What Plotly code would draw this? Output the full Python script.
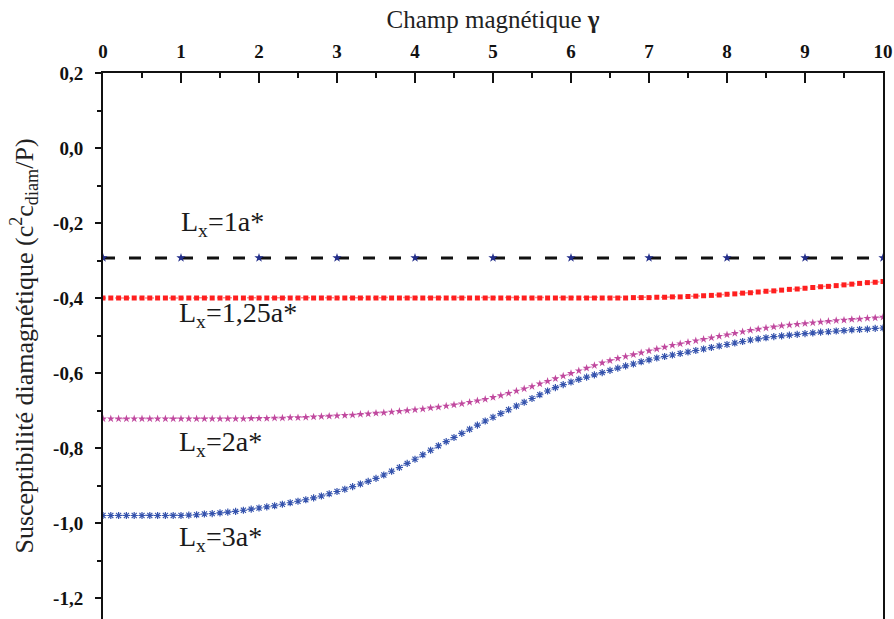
import plotly.graph_objects as go

# ---------------- data ----------------
gamma = [round(i * 0.1, 1) for i in range(101)]
gamma_int = [0, 1, 2, 3, 4, 5, 6, 7, 8, 9, 10]

chi_L1 = [-0.293, -0.293, -0.293, -0.293, -0.293, -0.293, -0.293, -0.293, -0.293, -0.293, -0.293]

chi_L125 = [
    -0.400, -0.400, -0.400, -0.400, -0.400, -0.400, -0.400, -0.400, -0.400, -0.400,
    -0.400, -0.400, -0.400, -0.400, -0.400, -0.400, -0.400, -0.400, -0.400, -0.400,
    -0.400, -0.400, -0.400, -0.400, -0.400, -0.400, -0.400, -0.400, -0.400, -0.400,
    -0.400, -0.400, -0.400, -0.400, -0.400, -0.400, -0.400, -0.400, -0.400, -0.400,
    -0.400, -0.400, -0.400, -0.400, -0.400, -0.400, -0.400, -0.400, -0.400, -0.400,
    -0.400, -0.400, -0.400, -0.400, -0.400, -0.400, -0.400, -0.400, -0.400, -0.400,
    -0.400, -0.400, -0.400, -0.400, -0.400, -0.400, -0.400, -0.400, -0.399, -0.399,
    -0.399, -0.398, -0.398, -0.397, -0.397, -0.396, -0.395, -0.394, -0.393, -0.392,
    -0.390, -0.389, -0.387, -0.386, -0.384, -0.382, -0.381, -0.379, -0.377, -0.376,
    -0.374, -0.372, -0.370, -0.369, -0.367, -0.365, -0.363, -0.361, -0.359, -0.358,
    -0.356,
]

chi_L2 = [
    -0.722, -0.722, -0.722, -0.722, -0.722, -0.722, -0.722, -0.722, -0.722, -0.722,
    -0.722, -0.722, -0.722, -0.722, -0.722, -0.722, -0.722, -0.722, -0.722, -0.721,
    -0.721, -0.721, -0.720, -0.720, -0.719, -0.719, -0.718, -0.717, -0.716, -0.715,
    -0.714, -0.713, -0.712, -0.710, -0.709, -0.707, -0.706, -0.704, -0.702, -0.700,
    -0.698, -0.696, -0.693, -0.691, -0.688, -0.685, -0.682, -0.678, -0.674, -0.670,
    -0.665, -0.660, -0.654, -0.648, -0.642, -0.636, -0.629, -0.622, -0.615, -0.608,
    -0.601, -0.594, -0.587, -0.580, -0.573, -0.567, -0.561, -0.556, -0.551, -0.546,
    -0.541, -0.536, -0.531, -0.526, -0.522, -0.518, -0.514, -0.510, -0.506, -0.502,
    -0.498, -0.494, -0.490, -0.486, -0.483, -0.480, -0.477, -0.474, -0.472, -0.470,
    -0.468, -0.466, -0.464, -0.462, -0.460, -0.459, -0.457, -0.456, -0.454, -0.453,
    -0.451,
]

chi_L3 = [
    -0.980, -0.980, -0.980, -0.980, -0.980, -0.980, -0.980, -0.980, -0.980, -0.980,
    -0.980, -0.979, -0.978, -0.976, -0.975, -0.973, -0.971, -0.969, -0.966, -0.963,
    -0.960, -0.957, -0.954, -0.950, -0.946, -0.942, -0.938, -0.933, -0.928, -0.922,
    -0.916, -0.910, -0.903, -0.896, -0.889, -0.881, -0.872, -0.862, -0.852, -0.841,
    -0.830, -0.818, -0.806, -0.794, -0.783, -0.772, -0.761, -0.750, -0.739, -0.728,
    -0.718, -0.708, -0.698, -0.688, -0.678, -0.668, -0.658, -0.648, -0.639, -0.631,
    -0.624, -0.617, -0.611, -0.605, -0.599, -0.593, -0.587, -0.581, -0.576, -0.570,
    -0.565, -0.560, -0.556, -0.552, -0.548, -0.544, -0.540, -0.536, -0.532, -0.528,
    -0.524, -0.520, -0.516, -0.512, -0.509, -0.506, -0.503, -0.501, -0.499, -0.497,
    -0.495, -0.493, -0.491, -0.490, -0.488, -0.487, -0.485, -0.484, -0.483, -0.481,
    -0.480,
]

x_ticks = [0, 1, 2, 3, 4, 5, 6, 7, 8, 9, 10]
y_ticks = [-1.2, -1.0, -0.8, -0.6, -0.4, -0.2, 0.0, 0.2]
y_tick_labels = ["-1,2", "-1,0", "-0,8", "-0,6", "-0,4", "-0,2", "0,0", "0,2"]

labels = ["L<sub>x</sub>=1a*", "L<sub>x</sub>=1,25a*", "L<sub>x</sub>=2a*", "L<sub>x</sub>=3a*"]
label_x = [0.98, 0.95, 0.95, 0.95]
label_y = [-0.200, -0.445, -0.787, -1.040]

# ---------------- figure ----------------
SERIF = "Liberation Serif, Times New Roman, serif"

fig = go.Figure()

fig.add_trace(go.Scatter(
    x=gamma, y=chi_L125, mode="lines+markers",
    line=dict(color="rgba(255,60,60,0.6)", width=1.5, dash="dot"),
    marker=dict(symbol="square", size=5, color="#ff1f1f"),
    showlegend=False))

fig.add_trace(go.Scatter(
    x=gamma, y=chi_L2, mode="lines+markers",
    line=dict(color="rgba(200,80,170,0.6)", width=1.2, dash="dot"),
    marker=dict(symbol="star", size=6, color="#c0489e"),
    showlegend=False))

fig.add_trace(go.Scatter(
    x=gamma, y=chi_L3, mode="lines+markers",
    line=dict(color="rgba(70,100,190,0.6)", width=1.2, dash="dot"),
    marker=dict(symbol="asterisk-open", size=6, color="#3553ad",
                line=dict(color="#3553ad", width=1.2)),
    showlegend=False))

fig.add_trace(go.Scatter(
    x=gamma_int, y=chi_L1, mode="lines+markers",
    line=dict(color="#111111", width=3, dash="12px,14px"),
    marker=dict(symbol="star", size=7, color="#232e8a"),
    showlegend=False))

for t, xx, yy in zip(labels, label_x, label_y):
    fig.add_annotation(x=xx, y=yy, text=t, showarrow=False, xanchor="left",
                       yanchor="middle", font=dict(family=SERIF, size=28, color="#1a1a1a"))

fig.update_layout(
    width=894, height=619,
    margin=dict(l=103, r=11, t=73, b=0),
    paper_bgcolor="white", plot_bgcolor="white",
    font=dict(family=SERIF, color="#111111", size=16),
    xaxis=dict(
        side="top", range=[0, 10],
        tickvals=x_ticks, ticktext=["<b>%d</b>" % v for v in x_ticks],
        ticks="inside", ticklen=10, tickwidth=2, tickcolor="#111111",
        ticklabelstandoff=5,
        minor=dict(dtick=0.5, ticks="inside", ticklen=5, tickwidth=2, tickcolor="#111111"),
        showline=True, linecolor="#111111", linewidth=2,
        showgrid=False, zeroline=False,
        tickfont=dict(family=SERIF, size=19, color="#111111"),
        title=dict(text="Champ magnétique <b>γ</b>", font=dict(family=SERIF, size=25, color="#222222"),
                   standoff=6),
    ),
    yaxis=dict(
        range=[-1.256, 0.2],
        tickvals=y_ticks, ticktext=["<b>%s</b>" % s for s in y_tick_labels],
        ticks="outside", ticklen=6, tickwidth=2, tickcolor="#111111",
        ticklabelstandoff=8,
        minor=dict(dtick=0.1, ticks="outside", ticklen=4, tickwidth=2, tickcolor="#111111"),
        showline=True, linecolor="#111111", linewidth=2, mirror=True,
        showgrid=False, zeroline=False,
        tickfont=dict(family=SERIF, size=19, color="#111111"),
        title=dict(text="Susceptibilité diamagnétique (c<sup>2</sup>c<sub>diam</sub>/P)",
                   font=dict(family=SERIF, size=26, color="#222222"), standoff=12),
    ),
)

fig.write_html("out.html")
